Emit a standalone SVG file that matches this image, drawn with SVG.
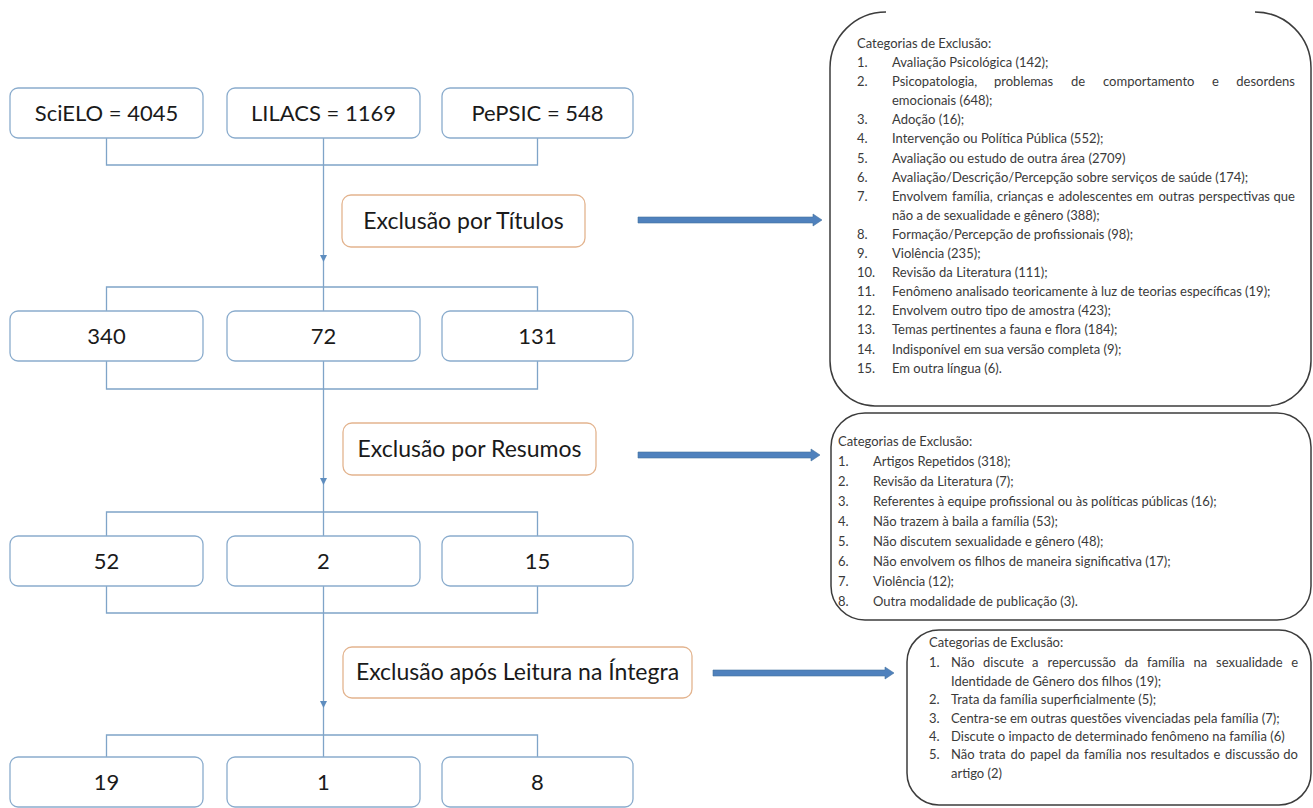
<svg xmlns="http://www.w3.org/2000/svg" width="1313" height="808" viewBox="0 0 1313 808">
<style>
.bg{fill:#ffffff}
.src{fill:#ffffff;stroke:#8aaccd;stroke-width:1.3}
.exc{fill:#ffffff;stroke:#e3b48f;stroke-width:1.3}
.cat{fill:none;stroke:#3c3c3c;stroke-width:1.5}
.lbl{font-family:Lato,"Liberation Sans",sans-serif;font-size:22px;fill:#1a1a1a;text-anchor:middle}
.elbl{font-family:Lato,"Liberation Sans",sans-serif;font-size:23px;fill:#1a1a1a;text-anchor:middle}
.t{font-family:Lato,"Liberation Sans",sans-serif;font-size:13px;fill:#3a3a3a}
.e{text-anchor:end}
.con{fill:none;stroke:#7fa4c8;stroke-width:1.3}
.ah{fill:#5e8dbf}
.arr{fill:#4f81bd;stroke:#44729f;stroke-width:0.6}
</style>
<rect class="bg" x="0" y="0" width="1313" height="808"/>

<g id="connectors">
  <path class="con" d="M106.5 138 V165 H537.5 V138"/>
  <path class="con" d="M323.5 138 V311"/>
  <path class="con" d="M106.5 311 V287 H537.5 V311"/>
  <polygon class="ah" points="320,255 327,255 323.5,262"/>
  <path class="con" d="M106.5 361 V389 H537.5 V361"/>
  <path class="con" d="M323.5 361 V536"/>
  <path class="con" d="M106.5 536 V512 H537.5 V536"/>
  <polygon class="ah" points="320,478 327,478 323.5,485"/>
  <path class="con" d="M106.5 586 V613 H537.5 V586"/>
  <path class="con" d="M323.5 586 V757"/>
  <path class="con" d="M106.5 757 V735 H537.5 V757"/>
  <polygon class="ah" points="320,701 327,701 323.5,708"/>
  <polygon class="arr" points="638,217 813,217 813,214 822,220 813,226 813,223 638,223"/>
  <polygon class="arr" points="638,452 811,452 811,449 820,455 811,461 811,458 638,458"/>
  <polygon class="arr" points="713,670 885,670 885,667 894,673 885,679 885,676 713,676"/>
</g>

<g id="scielo"><rect class="src" x="10" y="88" width="193" height="50" rx="8"/><text class="lbl" x="106.5" y="121">SciELO = 4045</text></g>
<g id="lilacs"><rect class="src" x="227" y="88" width="193" height="50" rx="8"/><text class="lbl" x="323.5" y="121">LILACS = 1169</text></g>
<g id="pepsic"><rect class="src" x="442" y="88" width="191" height="50" rx="8"/><text class="lbl" x="537.5" y="121">PePSIC = 548</text></g>

<g id="excl-titulos"><rect class="exc" x="342" y="195" width="243" height="52" rx="9"/><text class="elbl" x="463.5" y="229">Exclusão por Títulos</text></g>

<g id="r2-scielo"><rect class="src" x="10" y="311" width="193" height="50" rx="8"/><text class="lbl" x="106.5" y="344">340</text></g>
<g id="r2-lilacs"><rect class="src" x="227" y="311" width="193" height="50" rx="8"/><text class="lbl" x="323.5" y="344">72</text></g>
<g id="r2-pepsic"><rect class="src" x="442" y="311" width="191" height="50" rx="8"/><text class="lbl" x="537.5" y="344">131</text></g>

<g id="excl-resumos"><rect class="exc" x="343" y="423" width="253" height="52" rx="9"/><text class="elbl" x="469.5" y="457">Exclusão por Resumos</text></g>

<g id="r3-scielo"><rect class="src" x="10" y="536" width="193" height="50" rx="8"/><text class="lbl" x="106.5" y="569">52</text></g>
<g id="r3-lilacs"><rect class="src" x="227" y="536" width="193" height="50" rx="8"/><text class="lbl" x="323.5" y="569">2</text></g>
<g id="r3-pepsic"><rect class="src" x="442" y="536" width="191" height="50" rx="8"/><text class="lbl" x="537.5" y="569">15</text></g>

<g id="excl-integra"><rect class="exc" x="343" y="647" width="349" height="51" rx="9"/><text class="elbl" x="517.5" y="680">Exclusão após Leitura na Íntegra</text></g>

<g id="r4-scielo"><rect class="src" x="10" y="757" width="193" height="50" rx="8"/><text class="lbl" x="106.5" y="790">19</text></g>
<g id="r4-lilacs"><rect class="src" x="227" y="757" width="193" height="50" rx="8"/><text class="lbl" x="323.5" y="790">1</text></g>
<g id="r4-pepsic"><rect class="src" x="442" y="757" width="191" height="50" rx="8"/><text class="lbl" x="537.5" y="790">8</text></g>

<g id="cat-titulos">
  <path class="cat" d="M886 12 A56 56 0 0 0 830 68 V361 A45 45 0 0 0 875 406 H1266 A45 45 0 0 0 1311 361 V68 A56 56 0 0 0 1255 12"/>
  <text class="t" x="857" y="48">Categorias de Exclusão:</text>
  <text class="t" x="857" y="67">1.</text><text class="t" x="892" y="67">Avaliação Psicológica (142);</text>
  <text class="t" x="857" y="86">2.</text>
  <text class="t" y="86"><tspan x="892">Psicopatologia,</tspan><tspan x="994">problemas</tspan><tspan x="1071">de</tspan><tspan x="1103">comportamento</tspan><tspan x="1212">e</tspan></text>
  <text class="t e" x="1295" y="86">desordens</text>
  <text class="t" x="892" y="105">emocionais (648);</text>
  <text class="t" x="857" y="124">3.</text><text class="t" x="892" y="124">Adoção (16);</text>
  <text class="t" x="857" y="143">4.</text><text class="t" x="892" y="143">Intervenção ou Política Pública (552);</text>
  <text class="t" x="857" y="163">5.</text><text class="t" x="892" y="163">Avaliação ou estudo de outra área (2709)</text>
  <text class="t" x="857" y="182">6.</text><text class="t" x="892" y="182">Avaliação/Descrição/Percepção sobre serviços de saúde (174);</text>
  <text class="t" x="857" y="201">7.</text>
  <text class="t" y="201"><tspan x="892">Envolvem</tspan><tspan x="952">família,</tspan><tspan x="997">crianças</tspan><tspan x="1047">e</tspan><tspan x="1058.5">adolescentes</tspan><tspan x="1136">em</tspan><tspan x="1158.5">outras</tspan><tspan x="1198.5">perspectivas</tspan></text>
  <text class="t e" x="1295" y="201">que</text>
  <text class="t" x="892" y="220">não a de sexualidade e gênero (388);</text>
  <text class="t" x="857" y="239">8.</text><text class="t" x="892" y="239">Formação/Percepção de profissionais (98);</text>
  <text class="t" x="857" y="258">9.</text><text class="t" x="892" y="258">Violência (235);</text>
  <text class="t" x="857" y="277">10.</text><text class="t" x="892" y="277">Revisão da Literatura (111);</text>
  <text class="t" x="857" y="296">11.</text><text class="t" x="892" y="296">Fenômeno analisado teoricamente à luz de teorias específicas (19);</text>
  <text class="t" x="857" y="315">12.</text><text class="t" x="892" y="315">Envolvem outro tipo de amostra (423);</text>
  <text class="t" x="857" y="334">13.</text><text class="t" x="892" y="334">Temas pertinentes a fauna e flora (184);</text>
  <text class="t" x="857" y="354">14.</text><text class="t" x="892" y="354">Indisponível em sua versão completa (9);</text>
  <text class="t" x="857" y="373">15.</text><text class="t" x="892" y="373">Em outra língua (6).</text>
</g>

<g id="cat-resumos">
  <rect class="cat" x="831" y="413" width="480" height="207" rx="34"/>
  <text class="t" x="838" y="446">Categorias de Exclusão:</text>
  <text class="t" x="838" y="466">1.</text><text class="t" x="873" y="466">Artigos Repetidos (318);</text>
  <text class="t" x="838" y="486">2.</text><text class="t" x="873" y="486">Revisão da Literatura (7);</text>
  <text class="t" x="838" y="506">3.</text><text class="t" x="873" y="506">Referentes à equipe profissional ou às políticas públicas (16);</text>
  <text class="t" x="838" y="526">4.</text><text class="t" x="873" y="526">Não trazem à baila a família (53);</text>
  <text class="t" x="838" y="546">5.</text><text class="t" x="873" y="546">Não discutem sexualidade e gênero (48);</text>
  <text class="t" x="838" y="566">6.</text><text class="t" x="873" y="566">Não envolvem os filhos de maneira significativa (17);</text>
  <text class="t" x="838" y="586">7.</text><text class="t" x="873" y="586">Violência (12);</text>
  <text class="t" x="838" y="606">8.</text><text class="t" x="873" y="606">Outra modalidade de publicação (3).</text>
</g>

<g id="cat-integra">
  <rect class="cat" x="907" y="630" width="404" height="175" rx="32"/>
  <text class="t" x="929" y="647">Categorias de Exclusão:</text>
  <text class="t" x="929" y="667">1.</text>
  <text class="t" y="667"><tspan x="951">Não</tspan><tspan x="983">discute</tspan><tspan x="1032">a</tspan><tspan x="1047.5">repercussão</tspan><tspan x="1124.5">da</tspan><tspan x="1147">família</tspan><tspan x="1193.5">na</tspan><tspan x="1216">sexualidade</tspan></text>
  <text class="t e" x="1298" y="667">e</text>
  <text class="t" x="951" y="686">Identidade de Gênero dos filhos (19);</text>
  <text class="t" x="929" y="704">2.</text><text class="t" x="951" y="704">Trata da família superficialmente (5);</text>
  <text class="t" x="929" y="723">3.</text><text class="t" x="951" y="723">Centra-se em outras questões vivenciadas pela família (7);</text>
  <text class="t" x="929" y="741">4.</text><text class="t" x="951" y="741">Discute o impacto de determinado fenômeno na família (6)</text>
  <text class="t" x="929" y="759">5.</text>
  <text class="t" y="759"><tspan x="951">Não</tspan><tspan x="979">trata</tspan><tspan x="1010.5">do</tspan><tspan x="1030">papel</tspan><tspan x="1065.5">da</tspan><tspan x="1084">família</tspan><tspan x="1126">nos</tspan><tspan x="1150.5">resultados</tspan><tspan x="1213.5">e</tspan><tspan x="1225">discussão</tspan></text>
  <text class="t e" x="1298" y="759">do</text>
  <text class="t" x="951" y="778">artigo (2)</text>
</g>
</svg>
